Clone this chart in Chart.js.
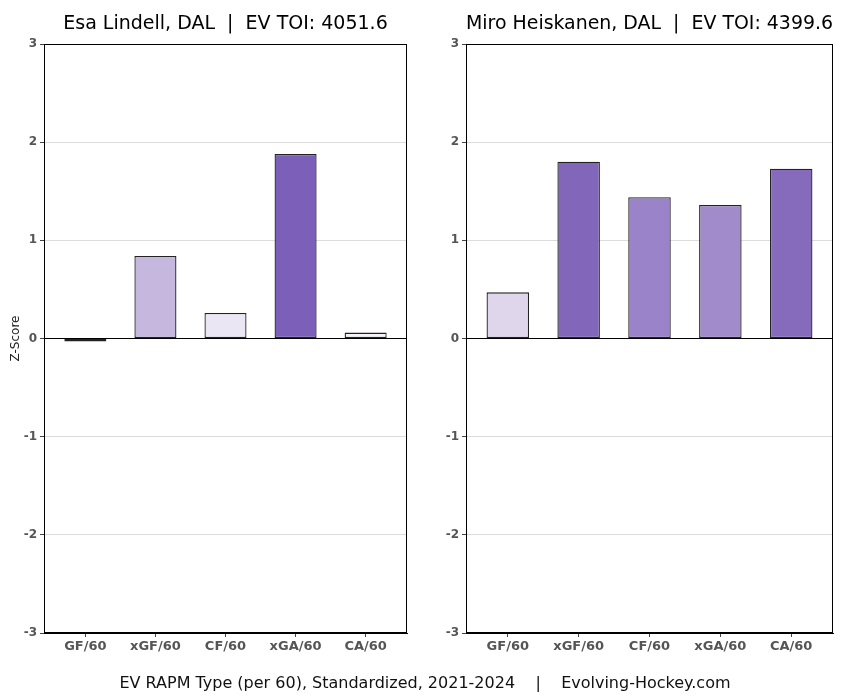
<!DOCTYPE html>
<html lang="en">
<head>
    <meta charset="UTF-8">
    <title>EV RAPM</title>
    <script src="https://cdn.jsdelivr.net/npm/chart.js"></script>
    <style>
        body { margin: 0; background: #fff; font-family: 'DejaVu Sans', sans-serif; }
        #wrap { position: relative; width: 850px; height: 700px; }
        #leftBox { position: absolute; left: 0; top: 0; width: 440px; height: 700px; }
        #rightBox { position: absolute; left: 440px; top: 0; width: 410px; height: 700px; }
        #footer { position: absolute; left: 0; width: 850px; top: 673px; text-align: center; font-size: 16px; color: #111; white-space: pre; }
    </style>
</head>
<body>
    <div id="wrap">
        <div id="leftBox"><canvas id="leftChart"></canvas></div>
        <div id="rightBox"><canvas id="rightChart"></canvas></div>
        <div id="footer">EV RAPM Type (per 60), Standardized, 2021-2024    |    Evolving-Hockey.com</div>
    </div>

    <script>
        // data
        const categories = ['GF/60', 'xGF/60', 'CF/60', 'xGA/60', 'CA/60'];
        const lindellValues = [-0.03, 0.84, 0.26, 1.88, 0.06];
        const heiskanenValues = [0.47, 1.80, 1.44, 1.36, 1.73];
        const lindellColors = ['#f6f4fa', '#c6b7df', '#ebe6f4', '#7b5fb8', '#f4f2f8'];
        const heiskanenColors = ['#dfd6ec', '#8166ba', '#9b83c9', '#a28bca', '#866bbd'];
        const yTicks = [-3, -2, -1, 0, 1, 2, 3];

        // draw the box around the plot area
        const framePlugin = {
            id: 'frame',
            afterDraw(chart) {
                const a = chart.chartArea;
                const ctx = chart.ctx;
                ctx.save();
                ctx.strokeStyle = '#000';
                ctx.lineWidth = 1;
                ctx.strokeRect(a.left + 0.5, a.top + 0.5, a.right - a.left - 1, a.bottom - a.top - 1);
                ctx.restore();
            }
        };

        function makeChart(id, title, values, colors, yWidth, padRight, showYTitle) {
            const ctx = document.getElementById(id).getContext('2d');
            return new Chart(ctx, {
                type: 'bar',
                data: {
                    datasets: [{
                        data: values.map((v, i) => ({ x: i, y: v })),
                        backgroundColor: colors,
                        borderColor: '#222',
                        borderWidth: 1.3,
                        borderSkipped: false,
                        categoryPercentage: 1,
                        barPercentage: 0.6
                    }]
                },
                options: {
                    responsive: true,
                    maintainAspectRatio: false,
                    animation: false,
                    layout: { padding: { top: 0, right: padRight, bottom: 37, left: 0 } },
                    plugins: {
                        legend: { display: false },
                        tooltip: { enabled: false },
                        title: {
                            display: true,
                            text: title,
                            fullSize: false,
                            color: '#000',
                            font: { family: 'DejaVu Sans', size: 19, weight: 'normal' },
                            padding: { top: 13, bottom: 8.2 }
                        }
                    },
                    scales: {
                        x: {
                            type: 'linear',
                            min: -0.59,
                            max: 4.59,
                            offset: false,
                            afterFit(scale) { scale.height = 30; },
                            afterBuildTicks(scale) { scale.ticks = categories.map((c, i) => ({ value: i })); },
                            border: { color: '#000' },
                            grid: { display: true, offset: false, drawOnChartArea: false, tickLength: 4, tickColor: '#444' },
                            ticks: {
                                color: '#555',
                                font: { family: 'DejaVu Sans', size: 13, weight: 'bold' },
                                padding: 2,
                                autoSkip: false,
                                maxRotation: 0,
                                callback: v => categories[v]
                            }
                        },
                        y: {
                            min: -3,
                            max: 3,
                            afterFit(scale) { scale.width = yWidth; },
                            afterBuildTicks(scale) { scale.ticks = yTicks.map(v => ({ value: v })); },
                            border: { color: '#000' },
                            grid: {
                                color: c => c.tick && c.tick.value === 0 ? '#000' : '#dcdcdc',
                                tickColor: '#444',
                                tickLength: 4
                            },
                            ticks: { color: '#555', font: { family: 'DejaVu Sans', size: 12, weight: 'bold' }, padding: 3 },
                            title: {
                                display: showYTitle,
                                text: 'Z-Score',
                                color: '#222',
                                font: { family: 'DejaVu Sans', size: 12 },
                                padding: { top: 9, bottom: 0 }
                            }
                        }
                    }
                },
                plugins: [framePlugin]
            });
        }

        makeChart('leftChart', 'Esa Lindell, DAL  |  EV TOI: 4051.6', lindellValues, lindellColors, 44, 33, true);
        makeChart('rightChart', 'Miro Heiskanen, DAL  |  EV TOI: 4399.6', heiskanenValues, heiskanenColors, 26, 17, false);
    </script>
</body>
</html>
